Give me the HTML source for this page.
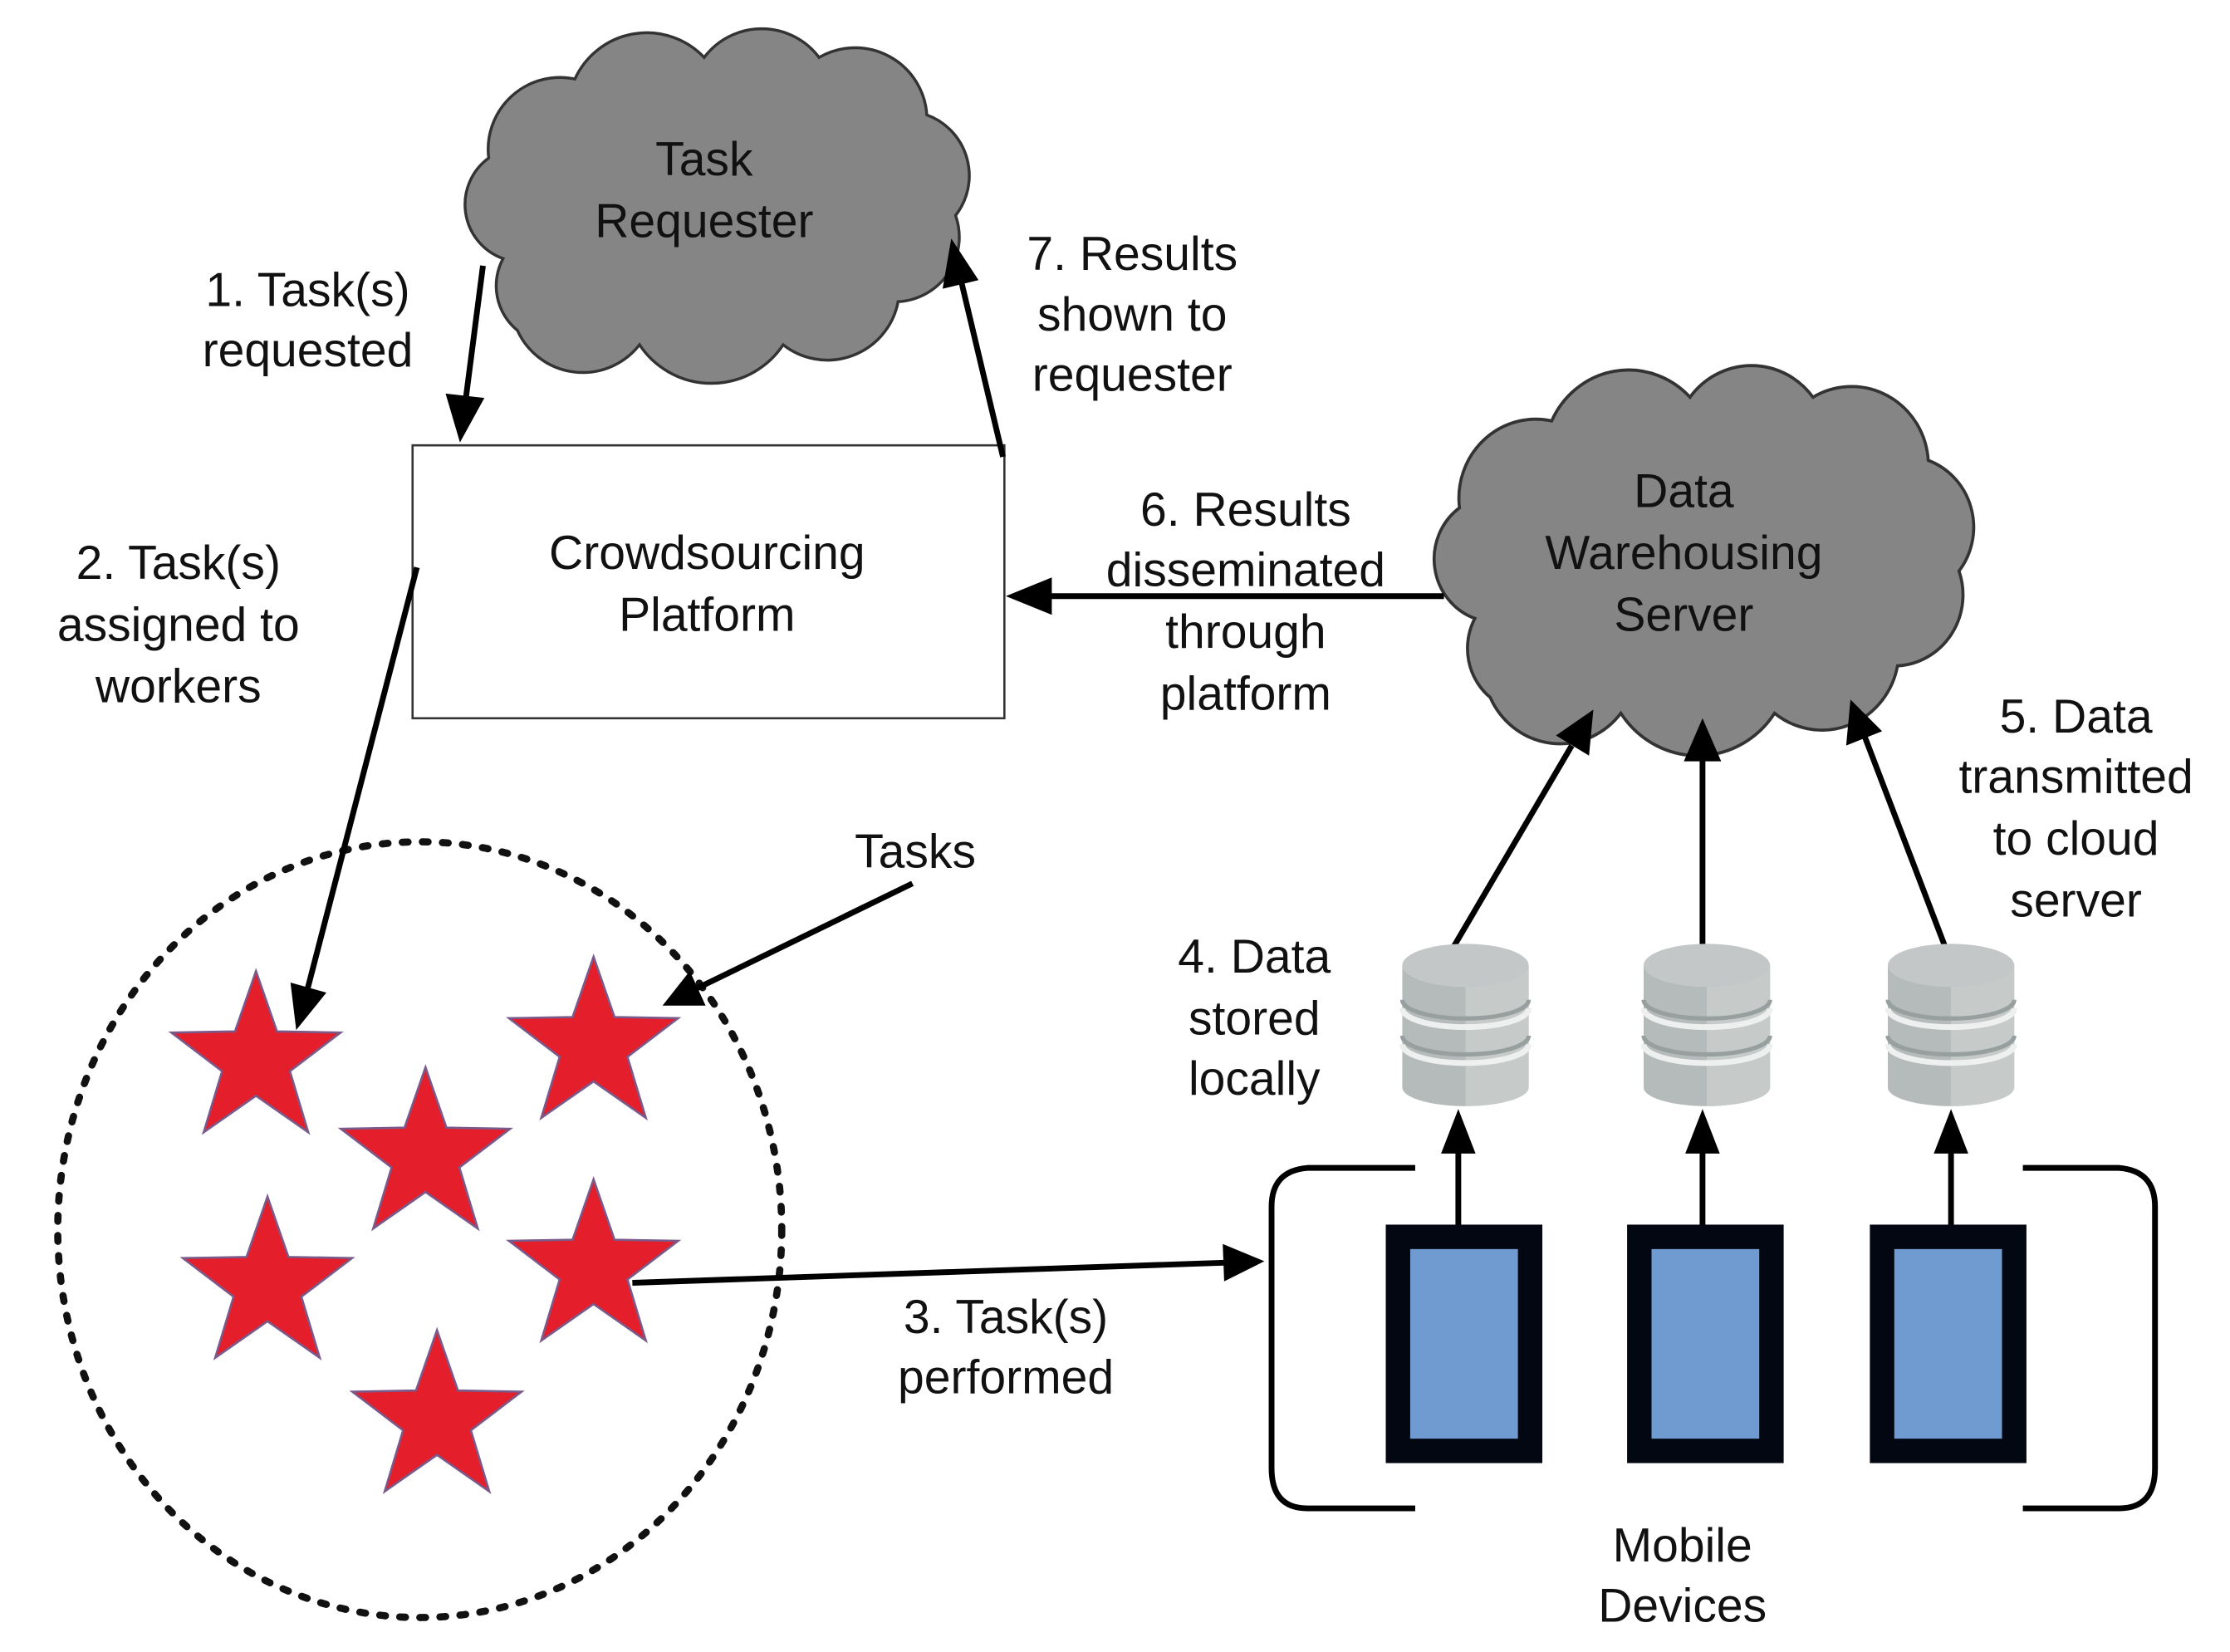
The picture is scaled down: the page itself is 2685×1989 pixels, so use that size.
<!DOCTYPE html>
<html><head><meta charset="utf-8"><style>html,body{margin:0;padding:0;background:#fff}svg{display:block}</style></head>
<body>
<svg width="2685" height="1989" viewBox="0 0 1552 1150" xmlns="http://www.w3.org/2000/svg" font-family="Liberation Sans, sans-serif" font-size="33" fill="#111">
<defs>
<marker id="ah" markerWidth="10" markerHeight="10" refX="9" refY="5" orient="auto" markerUnits="userSpaceOnUse" viewBox="0 0 10 10">
</marker>
<path id="cloud" d="M350,180 a40,40 0 0,1 -10,-70 a50,50 0 0,1 60,-55 a55,55 0 0,1 90,-15 a50,50 0 0,1 80,0 a50,50 0 0,1 75,40 a45,45 0 0,1 20,70 a45,45 0 0,1 -40,60 a50,50 0 0,1 -80,30 a60,60 0 0,1 -100,0 a50,50 0 0,1 -85,-10 a40,40 0 0,1 -10,-50 z"/>
<g id="db">
<path d="M-44,0 v85 a44,13 0 0,0 88,0 v-85 z" fill="#b4bbba"/>
<path d="M0,0 v98 a44,13 0 0,0 44,-13 v-85 z" fill="#c6cbca"/>
<ellipse cx="0" cy="0" rx="44" ry="15" fill="#c3c7c7"/>
<path d="M-44,30 a44,13 0 0,0 88,0" fill="none" stroke="#eef0f0" stroke-width="4"/>
<path d="M-44,55 a44,13 0 0,0 88,0" fill="none" stroke="#eef0f0" stroke-width="4"/>
<path d="M-44,24 a44,13 0 0,0 88,0" fill="none" stroke="#98a09f" stroke-width="3"/>
<path d="M-44,49 a44,13 0 0,0 88,0" fill="none" stroke="#98a09f" stroke-width="3"/>
</g>
<polygon id="star" points="0,-62 14.6,-20 58.9,-19.2 23.6,7.7 36.4,50.2 0,24.8 -36.4,50.2 -23.6,7.7 -58.9,-19.2 -14.6,-20" fill="#e41e2b" stroke="#7a5a8a" stroke-width="1.5"/>
</defs>

<!-- clouds -->
<use href="#cloud" fill="#858585" stroke="#333" stroke-width="2"/>
<use href="#cloud" fill="#858585" stroke="#333" stroke-width="2" transform="translate(1187,392) scale(1.07,1.1) translate(-500,-145)"/>
<text x="490" y="122" text-anchor="middle">Task</text>
<text x="490" y="165" text-anchor="middle">Requester</text>
<text x="1172" y="353" text-anchor="middle">Data</text>
<text x="1172" y="396" text-anchor="middle">Warehousing</text>
<text x="1172" y="439" text-anchor="middle">Server</text>

<!-- platform box -->
<rect x="287" y="310" width="412" height="190" fill="#fff" stroke="#333" stroke-width="1.5"/>
<text x="492" y="396" text-anchor="middle">Crowdsourcing</text>
<text x="492" y="439" text-anchor="middle">Platform</text>

<!-- dotted circle -->
<ellipse cx="292" cy="856" rx="252" ry="270" fill="none" stroke="#111" stroke-width="5" stroke-dasharray="4,10" stroke-linecap="round"/>

<!-- stars -->
<use href="#star" x="178" y="738"/>
<use href="#star" x="413" y="728"/>
<use href="#star" x="296" y="805"/>
<use href="#star" x="186" y="895"/>
<use href="#star" x="413" y="883"/>
<use href="#star" x="304" y="988"/>

<!-- arrows -->
<g stroke="#000" stroke-width="4" fill="none">
<line x1="336" y1="185" x2="324" y2="278"/>
<line x1="698" y1="318" x2="669" y2="196"/>
<line x1="1005" y1="415" x2="730" y2="415"/>
<line x1="290" y1="395" x2="214" y2="688"/>
<line x1="635" y1="615" x2="485" y2="688"/>
<line x1="440" y1="893" x2="852" y2="879"/>
<line x1="1010" y1="662" x2="1094" y2="519"/>
<line x1="1185" y1="662" x2="1185" y2="528"/>
<line x1="1355" y1="662" x2="1298" y2="513"/>
<line x1="1015" y1="853" x2="1015" y2="800"/>
<line x1="1185" y1="853" x2="1185" y2="800"/>
<line x1="1358" y1="853" x2="1358" y2="800"/>
</g>
<g fill="#000">
<polygon points="320,308 310,274 337,277"/>
<polygon points="662,166 656,201 681,195"/>
<polygon points="700,415 732,402 732,428"/>
<polygon points="206,717 202,684 227,691"/>
<polygon points="461,700 480,676 491,700"/>
<polygon points="880,878 851,866 852,892"/>
<polygon points="1109,494 1083,512 1106,526"/>
<polygon points="1185,500 1172,530 1198,530"/>
<polygon points="1288,487 1285,519 1310,509"/>
<polygon points="1015,772 1003,803 1027,803"/>
<polygon points="1185,772 1173,803 1197,803"/>
<polygon points="1358,772 1346,803 1370,803"/>
</g>

<!-- databases -->
<use href="#db" x="1020" y="672"/>
<use href="#db" x="1188" y="672"/>
<use href="#db" x="1358" y="672"/>

<!-- phones -->
<g fill="#6f9bd1" stroke="#030712" stroke-width="17">
<rect x="973" y="861" width="92" height="149"/>
<rect x="1141" y="861" width="92" height="149"/>
<rect x="1310" y="861" width="92" height="149"/>
</g>

<!-- brackets -->
<g stroke="#000" stroke-width="4" fill="none">
<path d="M985,813 H910 Q885,815 885,840 V1022 Q885,1050 910,1050 H985"/>
<path d="M1408,813 H1475 Q1500,815 1500,840 V1022 Q1500,1050 1475,1050 H1408"/>
</g>

<!-- labels -->
<g text-anchor="middle">
<text x="214" y="213">1. Task(s)</text>
<text x="214" y="255">requested</text>
<text x="788" y="188">7. Results</text>
<text x="788" y="230">shown to</text>
<text x="788" y="272">requester</text>
<text x="124" y="403">2. Task(s)</text>
<text x="124" y="446">assigned to</text>
<text x="124" y="489">workers</text>
<text x="867" y="366">6. Results</text>
<text x="867" y="408">disseminated</text>
<text x="867" y="451">through</text>
<text x="867" y="494">platform</text>
<text x="1445" y="510">5. Data</text>
<text x="1445" y="552">transmitted</text>
<text x="1445" y="595">to cloud</text>
<text x="1445" y="638">server</text>
<text x="637" y="604">Tasks</text>
<text x="873" y="677">4. Data</text>
<text x="873" y="720">stored</text>
<text x="873" y="762">locally</text>
<text x="700" y="928">3. Task(s)</text>
<text x="700" y="970">performed</text>
<text x="1171" y="1087">Mobile</text>
<text x="1171" y="1129">Devices</text>
</g>
</svg>
</body></html>
